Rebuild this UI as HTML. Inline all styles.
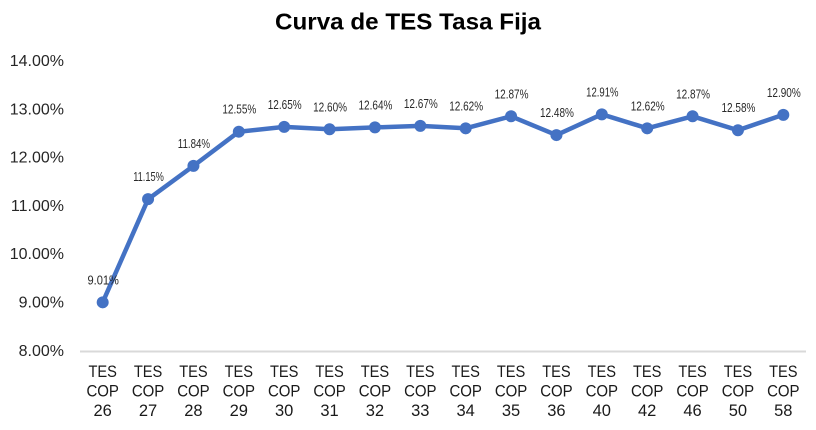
<!DOCTYPE html>
<html><head><meta charset="utf-8"><style>
html,body{margin:0;padding:0;background:#fff;}
svg{display:block;}
</style></head><body>
<svg width="816" height="430" viewBox="0 0 816 430" xmlns="http://www.w3.org/2000/svg" font-family="Liberation Sans, sans-serif">
<rect width="816" height="430" fill="#fff"/>
<text x="408" y="29.5" text-anchor="middle" font-size="23.5" font-weight="bold" fill="#000" textLength="266" lengthAdjust="spacingAndGlyphs">Curva de TES Tasa Fija</text>
<g font-size="16" fill="#262626" text-anchor="end">
<text x="64" y="66">14.00%</text>
<text x="64" y="114.5">13.00%</text>
<text x="64" y="162.5">12.00%</text>
<text x="64" y="211">11.00%</text>
<text x="64" y="259">10.00%</text>
<text x="64" y="307.5">9.00%</text>
<text x="64" y="356">8.00%</text>
</g>
<line x1="80" y1="351.5" x2="806" y2="351.5" stroke="#d9d9d9" stroke-width="2"/>
<g font-size="16.5" fill="#1a1a1a" text-anchor="middle" id="xl"></g>
<polyline id="ln" fill="none" stroke="#4472C4" stroke-width="4.5" stroke-linejoin="round"/>
<g id="pts" fill="#4472C4"></g>
<g id="lbl" font-size="13" fill="#2a2a2a" text-anchor="middle"></g>
<script>
var vals=[9.01,11.15,11.84,12.55,12.65,12.60,12.64,12.67,12.62,12.87,12.48,12.91,12.62,12.87,12.58,12.90];
var labs=["9.01%","11.15%","11.84%","12.55%","12.65%","12.60%","12.64%","12.67%","12.62%","12.87%","12.48%","12.91%","12.62%","12.87%","12.58%","12.90%"];
var cats=["26","27","28","29","30","31","32","33","34","35","36","40","42","46","50","58"];
var NS="http://www.w3.org/2000/svg";
var pts=[],g=document.getElementById("pts"),l=document.getElementById("lbl"),xl=document.getElementById("xl");
for(var i=0;i<16;i++){
 var x=80+45.375*(i+0.5);
 var y=351-(vals[i]-8)*48.2;
 pts.push(x.toFixed(1)+","+y.toFixed(1));
 var c=document.createElementNS(NS,"circle");c.setAttribute("cx",x);c.setAttribute("cy",y);c.setAttribute("r",6);g.appendChild(c);
 var t=document.createElementNS(NS,"text");t.setAttribute("x",x+0.5);t.setAttribute("y",y-18);
 var s=labs[i];var n1=(s.match(/1/g)||[]).length;
 var w=(s.length==5?31.5:35.5-n1*1.6);
 t.setAttribute("textLength",w);t.setAttribute("lengthAdjust","spacingAndGlyphs");
 t.textContent=s;l.appendChild(t);
 var lines=["TES","COP",cats[i]],ys=[377,396.5,416];
 for(var k=0;k<3;k++){var tt=document.createElementNS(NS,"text");tt.setAttribute("x",x);tt.setAttribute("y",ys[k]);
  if(k<2){tt.setAttribute("textLength",k==0?28.5:32.5);tt.setAttribute("lengthAdjust","spacingAndGlyphs");}
  tt.textContent=lines[k];xl.appendChild(tt);}
}
document.getElementById("ln").setAttribute("points",pts.join(" "));
</script>
</svg>
</body></html>
